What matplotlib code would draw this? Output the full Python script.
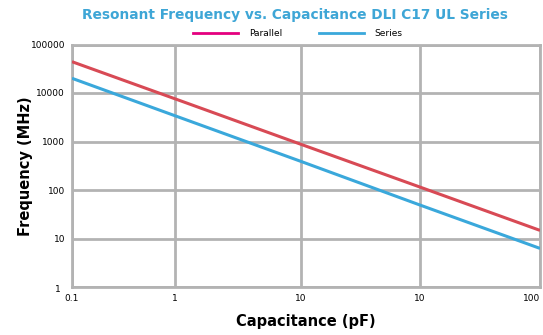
import matplotlib
matplotlib.use("Agg")
import matplotlib.pyplot as plt
from matplotlib.lines import Line2D
from matplotlib.transforms import ScaledTranslation

# x positions of the chart's vertical grid lines (log scale) and their printed labels
cap_ticks = [0.1, 0.457, 2.92, 17.0, 100]
cap_labels = ["0.1", "1", "10", "10", "100"]

freq_ticks = [1, 10, 100, 1000, 10000, 100000]
freq_labels = ["1", "10", "100", "1000", "10000", "100000"]

# resonant frequency read at each vertical grid line (MHz)
parallel_mhz = [44200, 7600, 880, 115, 14.7]
series_mhz = [20100, 3400, 391, 49, 6.25]

red = "#d84a55"
blue = "#3aa8db"
pink = "#e4007f"
grey = "#b3b3b3"

fig = plt.figure(figsize=(5.43, 3.35), dpi=100)
ax = fig.add_axes([72 / 543, 1 - 287 / 335, 468 / 543, 242.5 / 335])

ax.plot(cap_ticks, parallel_mhz, color=red, lw=2.2, solid_capstyle="butt", zorder=3)
ax.plot(cap_ticks, series_mhz, color=blue, lw=2.2, solid_capstyle="butt", zorder=3)

ax.set_xscale("log")
ax.set_yscale("log")
ax.set_xlim(0.1, 100)
ax.set_ylim(1, 100000)
ax.set_xticks(cap_ticks)
ax.set_xticklabels(cap_labels)
ax.set_yticks(freq_ticks)
ax.set_yticklabels(freq_labels)
ax.minorticks_off()
ax.tick_params(length=0, labelsize=6.5, pad=5)
ax.grid(True, color=grey, lw=2)
for s in ax.spines.values():
    s.set_color(grey)
    s.set_linewidth(2)

# the last x label sits inside the right edge, the lowest y label a bit further out
ax.get_xticklabels()[-1].set_horizontalalignment("right")
lab = ax.get_yticklabels()[0]
lab.set_transform(lab.get_transform() + ScaledTranslation(-4 / 100, -2 / 100, fig.dpi_scale_trans))

ax.set_xlabel("Capacitance (pF)", fontsize=10.5, fontweight="bold", labelpad=8)
ax.set_ylabel("Frequency (MHz)", fontsize=10.5, fontweight="bold", labelpad=-2)

fig.text(295 / 543, 1 - 15 / 335, "Resonant Frequency vs. Capacitance DLI C17 UL Series",
         ha="center", va="center", fontsize=9.9, fontweight="bold", color="#3ea6d6")

handles = [Line2D([], [], color=pink, lw=2), Line2D([], [], color=blue, lw=2)]
fig.legend(handles, ["Parallel", "Series"], loc="center", bbox_to_anchor=(298 / 543, 1 - 34 / 335),
           ncol=2, frameon=False, fontsize=6.5, handlelength=5, handletextpad=1.2,
           columnspacing=4)

fig.savefig("out.png", dpi=100)
